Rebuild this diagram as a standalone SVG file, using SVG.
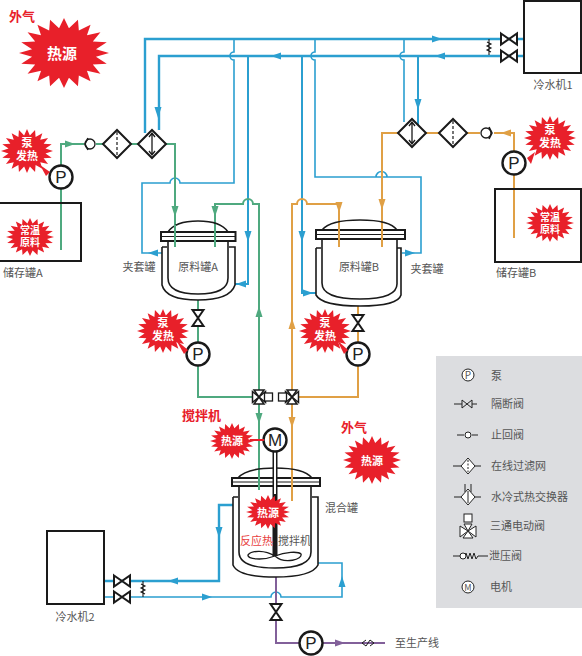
<svg xmlns="http://www.w3.org/2000/svg" width="582" height="656" viewBox="0 0 582 656">
<style>
text{font-family:"Noto Sans CJK SC","Noto Sans",sans-serif;font-size:11px;fill:#555}
.m{text-anchor:middle}
.w{font-family:"Liberation Sans","Noto Sans CJK SC",sans-serif;fill:#fff;font-weight:700;text-anchor:middle}
.r{fill:#e8202a;font-weight:700}
.p{fill:none;stroke-linejoin:miter}
.bl{stroke:#2b9fd0;stroke-width:2.4}
.b2{stroke:#2b9fd0;stroke-width:2}
.bt{stroke:#2b9fd0;stroke-width:1.6}
.gr{stroke:#4fa97f;stroke-width:2}
.or{stroke:#e0a045;stroke-width:2}
.pu{stroke:#82609a;stroke-width:2}
.k{fill:#fff;stroke:#1a1a1a;stroke-width:2}
.box{fill:none;stroke:#1a1a1a;stroke-width:2}
.t{fill:none;stroke:#1a1a1a;stroke-width:1.6}
.lk{fill:#fff;stroke:#222;stroke-width:1}
.ll{fill:none;stroke:#222;stroke-width:1}
.hot{fill:#e8202a}
</style>
<defs>
<polygon id="burst" class="hot" points="100,0 71,11 95,31 64,33 81,59 51,51 59,81 33,64 31,95 11,71 0,100 -11,71 -31,95 -33,64 -59,81 -51,51 -81,59 -64,33 -95,31 -71,11 -100,0 -71,-11 -95,-31 -64,-33 -81,-59 -51,-51 -59,-81 -33,-64 -31,-95 -11,-71 0,-100 11,-71 31,-95 33,-64 59,-81 51,-51 81,-59 64,-33 95,-31 71,-11"/>
<polygon id="valve" class="k" points="-8,-5.500 8,5.500 8,-5.500 -8,5.500"/>
<g id="pump"><circle r="11.500" fill="#fff" stroke="#1a1a1a" stroke-width="2.400"/><text y="6" text-anchor="middle" style="font-size:17px;font-family:'Liberation Sans',sans-serif;fill:#222">P</text></g>
<g id="filter"><polygon class="k" points="-14,0 0,-14 14,0 0,14"/><path d="M0-12V12" stroke="#1a1a1a" stroke-width="1.200" stroke-dasharray="3 2"/></g>
<g id="hex"><polygon class="k" points="-14,0 0,-14 14,0 0,14"/><path d="M0-10V10M-3-7L0-11 3-7M-3 7L0 11 3 7" fill="none" stroke="#1a1a1a" stroke-width="1.300"/></g>
<g id="relief"><path d="M0-8V8M-2-5L2-3-2-1 2 1-2 3 2 5" fill="none" stroke="#1a1a1a" stroke-width="1.100"/></g>
<g id="tway"><polygon class="k" style="stroke-width:1.500" points="-6.500,-5.500 0,0 -6.500,5.500"/><polygon class="k" style="stroke-width:1.500" points="6.500,-5.500 0,0 6.500,5.500"/><polygon class="k" style="stroke-width:1.500" points="-5,-7 5,-7 0,0"/><polygon class="k" style="stroke-width:1.500" points="-5,7 5,7 0,0"/></g>
<polygon id="aR" points="-5,-3.500 5,0 -5,3.500"/>
<polygon id="aL" points="5,-3.500 -5,0 5,3.500"/>
<polygon id="aD" points="-3.500,-6 3.500,-6 0,5"/>
<polygon id="aU" points="-3.500,6 3.500,6 0,-5"/>
</defs>

<g id="connectors">
<g id="blue-top">
<path class="p bl" d="M145 133V39H524"/>
<path class="p bl" d="M159 130V56H524"/>
<path class="p bt" d="M234 39V52A4 4 0 0 0 234 60V183H180A5 5 0 0 0 170 183H142V253H162"/>
<path class="p b2" d="M248 56V284H235"/>
<path class="p b2" d="M302 56V293H316"/>
<path class="p bt" d="M315 39V52A4 4 0 0 0 315 60V177H387A5 5 0 0 0 376 177H421V253H402"/>
<path class="p bt" d="M404 39V52A4 4 0 0 0 404 60V122"/>
<path class="p b2" d="M418 56V126"/>
</g>
<g id="blue-bottom">
<path class="p bl" d="M233 505H219V581H104"/>
<path class="p bt" d="M104 597H271A5 5 0 0 1 281 597H342V563H318"/>
</g>
<path class="p gr" d="M61 250V144H84M96 144H103M131 144H138M166 144H175V247"/>
<path class="p gr" d="M215 247V204H243A5 5 0 0 1 253 204H259V490"/>
<path class="p gr" d="M198 300V397H259"/>
<path class="p or" d="M514 238V133H494M480 133H467M439 133H426M398 133H382V247"/>
<path class="p or" d="M339 247V204H307A5 5 0 0 0 297 204H292V501"/>
<path class="p or" d="M358 306V397H292"/>
<path class="p pu" d="M276 577V643H385"/>
<g id="arrows">
<g fill="#2b9fd0">
<use href="#aD" x="158" y="113"/><use href="#aL" x="276" y="56"/><use href="#aR" x="437" y="39"/><use href="#aL" x="440" y="56"/>
<use href="#aL" x="153" y="253"/><use href="#aD" x="248" y="237"/><use href="#aL" x="241" y="284"/>
<use href="#aD" x="302" y="237"/><use href="#aR" x="308" y="293"/><use href="#aD" x="418" y="105"/><use href="#aR" x="410" y="253"/>
<use href="#aD" x="219" y="533"/><use href="#aL" x="173" y="581"/><use href="#aR" x="207" y="597"/><use href="#aU" x="342" y="581"/>
</g>
<g fill="#4fa97f">
<use href="#aR" x="70" y="144"/><use href="#aD" x="175" y="212"/><use href="#aD" x="215" y="212"/><use href="#aU" x="259" y="311"/><use href="#aD" x="259" y="419"/>
</g>
<g fill="#e0a045">
<use href="#aL" x="506" y="133"/><use href="#aD" x="382" y="205"/><use href="#aD" x="339" y="208"/><use href="#aU" x="292" y="323"/><use href="#aD" x="292" y="423"/>
</g>
<use href="#aR" x="340" y="643" fill="#82609a"/>
</g>
</g>

<g id="cooler1"><rect class="box" x="524" y="1" width="57" height="72"/><text class="m" x="553" y="89">冷水机1</text></g>
<g id="cooler1-valves"><use href="#valve" x="509" y="39"/><use href="#valve" x="509" y="56"/><use href="#relief" x="489" y="47"/></g>
<g id="cooler2"><rect class="box" x="47" y="531" width="57" height="73"/><text class="m" x="75" y="621">冷水机2</text></g>
<g id="cooler2-valves"><use href="#valve" x="122" y="581"/><use href="#valve" x="122" y="597"/><use href="#relief" x="143" y="589"/></g>

<g id="storage-a"><rect class="box" x="-1" y="203" width="82" height="58"/>
<use href="#burst" transform="translate(30 237) scale(.24 .19)"/><text class="w" x="30" y="234" style="font-size:10px">常温</text><text class="w" x="30" y="246" style="font-size:10px">原料</text>
<text x="3" y="277">储存罐A</text></g>
<g id="storage-b"><rect class="box" x="495" y="189" width="86" height="73"/>
<use href="#burst" transform="translate(550 223) scale(.24 .19)"/><text class="w" x="550" y="221" style="font-size:10px">常温</text><text class="w" x="550" y="233" style="font-size:10px">原料</text>
<text x="496" y="277">储存罐B</text></g>

<g id="check-a"><circle cx="90" cy="144" r="5" class="k" style="stroke-width:1.300"/><path class="t" d="M88 138L85 144 88 150"/></g>
<g id="filter-a"><use href="#filter" x="117" y="144"/></g>
<g id="hex-a"><use href="#hex" x="152" y="144"/></g>
<g id="check-b"><circle cx="486" cy="133" r="5" class="k" style="stroke-width:1.300"/><path class="t" d="M489 127L492 133 489 139"/></g>
<g id="filter-b"><use href="#filter" x="453" y="133"/></g>
<g id="hex-b"><use href="#hex" x="412" y="133"/></g>

<g id="tank-a">
<path class="t" d="M168 232Q175 221 198 221T228 232"/>
<rect x="161" y="232" width="74.500" height="9" class="k"/><path d="M161 236.500H235" stroke="#1a1a1a" stroke-width="1"/>
<path class="t" d="M168 241V278Q168 294 198 294T228 278V241"/>
<path class="t" d="M162 247V285Q166 300 198 300T235 285V247H229M162 247H167"/>
<text class="m" x="198" y="271">原料罐A</text><text class="m" x="139" y="271">夹套罐</text>
</g>
<path class="p gr" d="M175 225V247M215 225V247"/>
<g id="tank-b">
<path class="t" d="M322 230Q330 220 360 220T397 230"/>
<rect x="316" y="230" width="89" height="9" class="k"/><path d="M316 234.500H405" stroke="#1a1a1a" stroke-width="1"/>
<path class="t" d="M322 239V283Q322 299 360 299T397 283V239"/>
<path class="t" d="M316 248V295Q322 306 360 306T401 295V248H397M316 248H321"/>
<text class="m" x="359" y="271">原料罐B</text><text class="m" x="427" y="273">夹套罐</text>
</g>
<path class="p or" d="M339 225V247M382 225V247"/>

<g id="valve-a"><use href="#valve" transform="translate(198 318) rotate(90)"/></g>
<g id="valve-b"><use href="#valve" transform="translate(358 323) rotate(90)"/></g>
<g id="pump-a0"><use href="#pump" x="61" y="177"/></g>
<g id="pump-b0"><use href="#pump" x="514" y="163"/></g>
<g id="pump-a"><use href="#pump" x="198" y="354"/></g>
<g id="pump-b"><use href="#pump" x="358" y="354"/></g>

<g id="threeway-a"><use href="#tway" x="259" y="397"/><rect x="264.500" y="393" width="8" height="8" class="k" style="stroke-width:1.300"/></g>
<g id="threeway-b"><use href="#tway" x="292" y="397"/><rect x="278.500" y="393" width="8" height="8" class="k" style="stroke-width:1.300"/></g>

<g id="mix-tank">
<path class="t" d="M238 478Q246 468 275 468T312 478"/>
<path class="t" d="M239 486V552Q239 568 275 568T311 552V486"/>
<path class="t" d="M233 497V565Q238 577 275 577T318 565V497H312M233 497H238"/>
<rect x="232" y="478" width="88" height="8" class="k"/><path d="M232 482H320" stroke="#1a1a1a" stroke-width="1"/>
<path class="p gr" d="M259 470V490"/><path class="p or" d="M292 470V501"/>
<path d="M275 452V556" stroke="#1a1a1a" stroke-width="5"/><path d="M275 452V494" stroke="#fff" stroke-width="2"/>
<path class="t" style="stroke-width:1.300" fill="#fff" d="M275 556C265 550 252 550 248 555 247 559 262 561 275 556ZM275 556C285 552 298 551 301 554 303 559 285 565 275 556Z"/>
<text x="325" y="512">混合罐</text>
<text x="240" y="545" style="fill:#e84040">反应热</text><text x="278" y="545">搅拌机</text>
</g>
<g id="motor"><circle cx="275" cy="440" r="11.500" fill="#fff" stroke="#1a1a1a" stroke-width="2.400"/><text x="275" y="446" text-anchor="middle" style="font-size:17px;font-family:'Liberation Sans',sans-serif;fill:#222">M</text></g>
<g id="outlet-valve"><use href="#valve" transform="translate(276 612) rotate(90)"/></g>
<g id="outlet-pump"><use href="#pump" x="311" y="643"/></g>
<g id="outlet-break"><path class="t" style="stroke-width:1" d="M366 640L362 643 366 646 370 640 374 643 370 646"/><text x="395" y="647">至生产线</text></g>

<g id="heat-main"><use href="#burst" transform="translate(64 53) scale(.45 .35)"/><text class="w" x="62" y="59" style="font-size:15px">热源</text><text class="r" x="9" y="21" style="font-size:13px">外气</text></g>
<g id="heat-pump-a0"><path d="M40 165L50 172 46 176Z" class="hot"/><use href="#burst" transform="translate(27 151) scale(.26 .22)"/><text class="w" x="27" y="147">泵</text><text class="w" x="27" y="160">发热</text></g>
<g id="heat-pump-b0"><path d="M535 152L527 158 531 164Z" class="hot"/><use href="#burst" transform="translate(550 138) scale(.26 .22)"/><text class="w" x="550" y="134">泵</text><text class="w" x="550" y="147">发热</text></g>
<g id="heat-pump-a"><path d="M176 340L188 350 184 354Z" class="hot"/><use href="#burst" transform="translate(163 331) scale(.26 .22)"/><text class="w" x="163" y="327">泵</text><text class="w" x="163" y="340">发热</text></g>
<g id="heat-pump-b"><path d="M337 340L348 350 344 354Z" class="hot"/><use href="#burst" transform="translate(325 331) scale(.26 .22)"/><text class="w" x="325" y="327">泵</text><text class="w" x="325" y="340">发热</text></g>
<g id="heat-motor"><path d="M250 440H264" stroke="#e8202a" stroke-width="2"/><use href="#burst" transform="translate(232 441) scale(.22 .18)"/><text class="w" x="232" y="445">热源</text><text class="r" x="182" y="420" style="font-size:13px">搅拌机</text></g>
<g id="heat-air"><use href="#burst" transform="translate(372 460) scale(.29 .24)"/><text class="w" x="372" y="465">热源</text><text class="r" x="341" y="432" style="font-size:13px">外气</text></g>
<g id="heat-reaction"><use href="#burst" transform="translate(268 512) scale(.22 .17)"/><text class="w" x="268" y="517">热源</text></g>

<g id="legend">
<rect x="436" y="356" width="146" height="252" fill="#dcdde0"/>
<circle class="lk" cx="468" cy="375" r="6"/><text x="468" y="379" text-anchor="middle" style="font-size:10px">P</text><text x="491" y="380">泵</text>
<path class="ll" d="M454 404H462M472 404H477"/><polygon class="ll" points="462,400 472,408 472,400 462,408"/><text x="491" y="408">隔断阀</text>
<path class="ll" d="M457 435H464M472 435H478"/><circle class="lk" cx="468" cy="435" r="3"/><text x="491" y="439">止回阀</text>
<path class="ll" d="M453 466H461M475 466H481"/><polygon class="lk" points="461,466 468,458 475,466 468,474"/><path class="ll" d="M468 460V472" stroke-dasharray="2 1.500"/><text x="491" y="470">在线过滤网</text>
<path class="ll" d="M454 497H461M475 497H481M465 484V492M471 484V492"/><polygon class="lk" points="461,497 468,489 475,497 468,505"/><path class="ll" d="M468 491V503"/><text x="491" y="501">水冷式热交换器</text>
<rect class="lk" x="464" y="514" width="8" height="8"/><polygon class="lk" points="460,526 468,531 476,526 476,537 468,531 460,537"/><polygon class="lk" points="463,538 468,531 473,538"/><polygon class="lk" points="464,524 472,524 468,531"/><text x="490" y="530">三通电动阀</text>
<path class="ll" d="M453 556H461M464 556L466 553 468 559 470 553 472 559 474 553 476 559 478 556H488"/><circle class="lk" cx="463" cy="556" r="3"/><text x="489" y="560">泄压阀</text>
<circle class="lk" cx="468" cy="587" r="6"/><text x="468" y="590.500" text-anchor="middle" style="font-size:9px">M</text><text x="490" y="591">电机</text>
</g>
</svg>
